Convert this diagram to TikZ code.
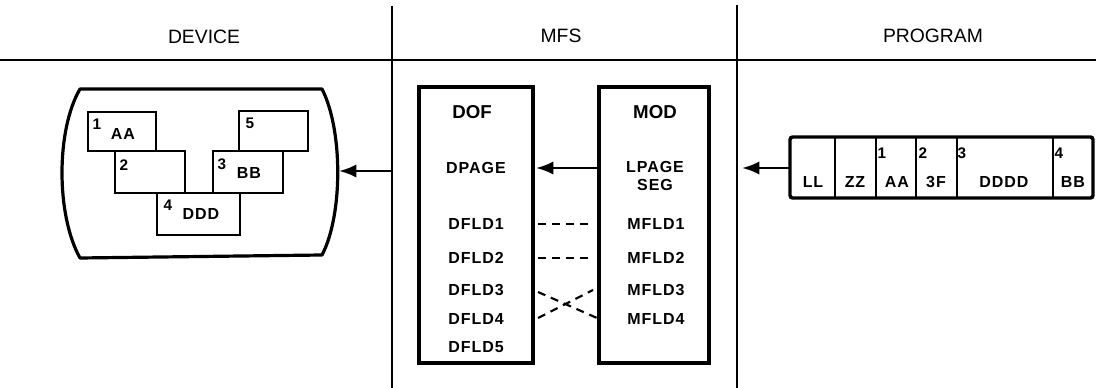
\documentclass[tikz,border=0pt]{standalone}
\usepackage{fontspec}
\setmainfont{Liberation Sans}
\usetikzlibrary{arrows.meta}
\begin{document}
\begin{tikzpicture}[x=0.75pt,y=-0.75pt,
  lbl/.style={font=\fontsize{12}{14}\selectfont\bfseries\addfontfeature{LetterSpace=6}, inner sep=0pt},
  big/.style={font=\fontsize{14}{16}\selectfont\bfseries, inner sep=0pt},
  num/.style={font=\fontsize{11.5}{13}\selectfont\bfseries, inner sep=0pt},
  hdr/.style={font=\fontsize{14.5}{16}\selectfont, inner sep=0pt},
  rulel/.style={line width=1.6pt},
  thickbox/.style={line width=2.6pt},
  thinbox/.style={line width=1.8pt},
  arr/.style={line width=2pt, -{Latex[length=13pt,width=10pt]}},
  link/.style={line width=1.6pt, dash pattern=on 6pt off 4.5pt},
]
\useasboundingbox (0,0) rectangle (1096,388);

% header rules
\coordinate (hl) at (0,60);
\coordinate (hr) at (1096,60);
\coordinate (v1t) at (392,6);
\coordinate (v1b) at (392,388);
\coordinate (v2t) at (737,5);
\coordinate (v2b) at (737,388);
\draw[rulel] (hl) -- (hr);
\draw[rulel] (v1t) -- (v1b);
\draw[rulel] (v2t) -- (v2b);

\node[hdr] (hdev) at (204,37) {DEVICE};
\node[hdr] (hmfs) at (561,36) {MFS};
\node[hdr] (hprg) at (933,36) {PROGRAM};

% ---------------- DEVICE ----------------
\draw[line width=2.4pt, line join=round]
  (80,89) -- (322,89) .. controls (343,130) and (343,215) .. (322,255)
  -- (80,258) .. controls (56,215) and (56,130) .. (80,89) -- cycle;
\coordinate (scr) at (339,171);
\coordinate (devin) at (392,171);

\draw[thinbox] (88,112) rectangle (156,151);
\draw[thinbox] (115,151) rectangle (185,193);
\draw[thinbox] (157,193) rectangle (240,235);
\draw[thinbox] (213,151) rectangle (283,193);
\draw[thinbox] (239,111) rectangle (308,151);

\node[num] (n1) at (97,124) {1};
\node[lbl] (aa) at (123,134) {AA};
\node[num] (n2) at (124,165) {2};
\node[num] (n5) at (250,123) {5};
\node[num] (n3) at (222,164) {3};
\node[lbl] (bb) at (249,173) {BB};
\node[num] (n4) at (168,205) {4};
\node[lbl] (ddd) at (201,214) {DDD};

\draw[arr] (devin) -- (scr);

% ---------------- MFS ----------------
\draw[thickbox] (419,87) rectangle (533,363);
\draw[thickbox] (599,87) rectangle (709,363);

\node[big] (dof) at (472,112) {DOF};
\node[big] (mod) at (655,112) {MOD};

\node[lbl] (dpage) at (476,168) {DPAGE};
\node[lbl] (lpage) at (655,167) {LPAGE};
\node[lbl] (seg) at (655,185) {SEG};

\node[lbl] (d1) at (476,224) {DFLD1};
\node[lbl] (d2) at (476,258) {DFLD2};
\node[lbl] (d3) at (476,290) {DFLD3};
\node[lbl] (d4) at (476,319) {DFLD4};
\node[lbl] (d5) at (476,347) {DFLD5};
\node[lbl] (m1) at (656,224) {MFLD1};
\node[lbl] (m2) at (656,258) {MFLD2};
\node[lbl] (m3) at (656,290) {MFLD3};
\node[lbl] (m4) at (656,319) {MFLD4};

\coordinate (modl) at (599,168);
\coordinate (dofr) at (536,168);
\draw[arr] (modl) -- (dofr);

\coordinate (a1) at (538,224); \coordinate (b1) at (593,224);
\coordinate (a2) at (538,258); \coordinate (b2) at (593,258);
\coordinate (a3) at (538,292); \coordinate (b3) at (593,290);
\coordinate (a4) at (538,318); \coordinate (b4) at (597,318);
\draw[link] (a1) -- (b1);
\draw[link] (a2) -- (b2);
\draw[link] (a3) -- (b4);
\draw[link] (a4) -- (b3);

% ---------------- PROGRAM ----------------
\draw[thickbox, rounded corners=2pt] (790,137) rectangle (1093,198);
\foreach \x in {835,876,916,957,1053}
  \draw[thinbox] (\x,137) -- (\x,198);

\node[lbl] (ll) at (813,182) {LL};
\node[lbl] (zz) at (855,182) {ZZ};
\node[num] (p1) at (882,153) {1};
\node[lbl] (paa) at (897,182) {AA};
\node[num] (p2) at (923,153) {2};
\node[lbl] (p3f) at (936,182) {3F};
\node[num] (p3) at (962,153) {3};
\node[lbl] (pdddd) at (1004,182) {DDDD};
\node[num] (p4) at (1059,153) {4};
\node[lbl] (pbb) at (1073,182) {BB};

\coordinate (recl) at (790,168);
\coordinate (prgarr) at (742,168);
\draw[arr] (recl) -- (prgarr);
\end{tikzpicture}
\end{document}
